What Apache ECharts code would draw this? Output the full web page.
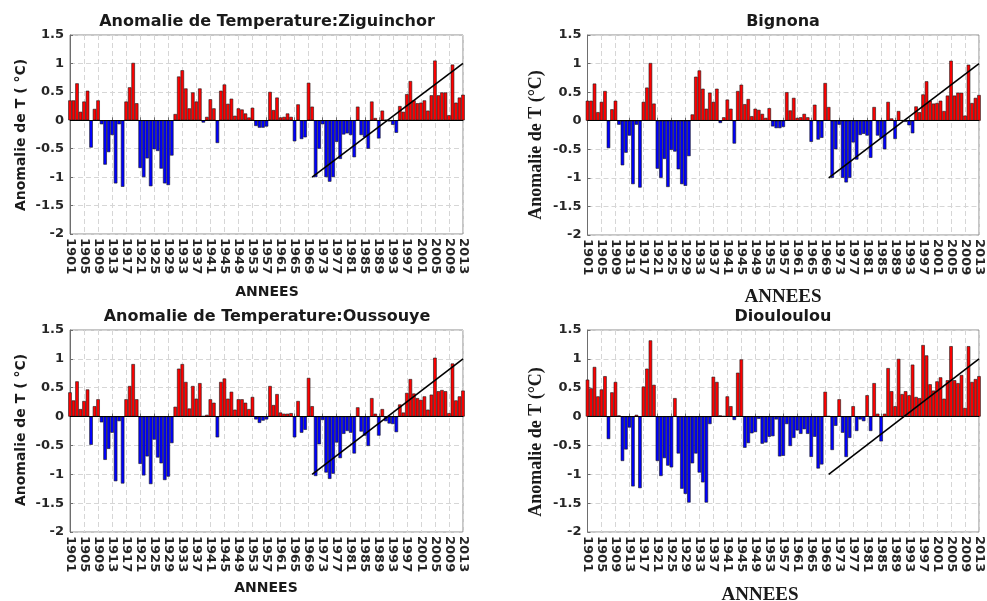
<!DOCTYPE html>
<html>
<head>
<meta charset="utf-8">
<script src="https://cdn.jsdelivr.net/npm/echarts@6/dist/echarts.min.js"></script>
<style>
  html, body { margin: 0; padding: 0; background: #fff; }
  #chart { width: 987px; height: 601px; }
</style>
</head>
<body>
<div id="chart"></div>
<script>
// Annual temperature anomalies (°C), 1901-2013
const FIRST_YEAR = 1901;
const LAST_YEAR = 2013;
const years = [];
for (let y = FIRST_YEAR; y <= LAST_YEAR; y++) years.push(String(y));

const ziguinchor = [
  0.35, 0.35, 0.65, 0.15, 0.33, 0.52, -0.48, 0.20, 0.35, -0.07,
  -0.78, -0.56, -0.26, -1.11, -0.07, -1.17, 0.33, 0.58, 1.01, 0.30,
  -0.84, -1.00, -0.67, -1.16, -0.51, -0.54, -0.85, -1.11, -1.14, -0.62,
  0.11, 0.77, 0.88, 0.56, 0.21, 0.49, 0.33, 0.56, -0.04, 0.06,
  0.37, 0.21, -0.40, 0.52, 0.63, 0.29, 0.38, 0.08, 0.21, 0.19,
  0.12, 0.05, 0.22, -0.10, -0.13, -0.13, -0.11, 0.50, 0.18, 0.40,
  0.05, 0.06, 0.12, 0.06, -0.37, 0.28, -0.33, -0.30, 0.66, 0.24,
  -1.00, -0.50, -0.07, -1.00, -1.08, -1.00, -0.38, -0.68, -0.25, -0.23,
  -0.26, -0.65, 0.24, -0.26, -0.30, -0.50, 0.33, 0.04, -0.32, 0.17,
  0.01, -0.02, -0.08, -0.22, 0.25, 0.15, 0.46, 0.69, 0.35, 0.30,
  0.31, 0.35, 0.17, 0.44, 1.05, 0.44, 0.49, 0.49, 0.09, 0.98,
  0.31, 0.40, 0.45
];

const bignona = [
  0.35, 0.35, 0.65, 0.15, 0.33, 0.52, -0.48, 0.20, 0.35, -0.07,
  -0.78, -0.56, -0.26, -1.11, -0.07, -1.17, 0.33, 0.58, 1.01, 0.30,
  -0.84, -1.00, -0.67, -1.16, -0.51, -0.54, -0.85, -1.11, -1.14, -0.62,
  0.11, 0.77, 0.88, 0.56, 0.21, 0.49, 0.33, 0.56, -0.04, 0.06,
  0.37, 0.21, -0.40, 0.52, 0.63, 0.29, 0.38, 0.08, 0.21, 0.19,
  0.12, 0.05, 0.22, -0.10, -0.13, -0.13, -0.11, 0.50, 0.18, 0.40,
  0.05, 0.06, 0.12, 0.06, -0.37, 0.28, -0.33, -0.30, 0.66, 0.24,
  -1.00, -0.50, -0.07, -1.00, -1.08, -1.00, -0.38, -0.68, -0.25, -0.23,
  -0.26, -0.65, 0.24, -0.26, -0.30, -0.50, 0.33, 0.04, -0.32, 0.17,
  0.01, -0.02, -0.08, -0.22, 0.25, 0.15, 0.46, 0.69, 0.35, 0.30,
  0.31, 0.35, 0.17, 0.44, 1.05, 0.44, 0.49, 0.49, 0.09, 0.98,
  0.31, 0.40, 0.45
];

const oussouye = [
  0.42, 0.28, 0.61, 0.13, 0.27, 0.47, -0.49, 0.18, 0.30, -0.10,
  -0.75, -0.56, -0.28, -1.12, -0.08, -1.16, 0.30, 0.53, 0.91, 0.30,
  -0.82, -1.02, -0.69, -1.17, -0.40, -0.71, -0.81, -1.10, -1.04, -0.46,
  0.17, 0.83, 0.91, 0.60, 0.14, 0.53, 0.31, 0.58, 0.01, 0.03,
  0.30, 0.24, -0.36, 0.60, 0.66, 0.31, 0.43, 0.12, 0.30, 0.30,
  0.24, 0.13, 0.34, -0.05, -0.11, -0.07, -0.05, 0.53, 0.20, 0.39,
  0.07, 0.05, 0.05, 0.06, -0.36, 0.27, -0.28, -0.23, 0.67, 0.18,
  -1.03, -0.48, -0.06, -0.97, -1.08, -0.99, -0.45, -0.72, -0.30, -0.25,
  -0.28, -0.64, 0.16, -0.26, -0.33, -0.51, 0.32, 0.05, -0.33, 0.13,
  -0.08, -0.12, -0.13, -0.27, 0.21, 0.07, 0.41, 0.65, 0.40, 0.32,
  0.29, 0.35, 0.12, 0.38, 1.02, 0.44, 0.46, 0.44, 0.06, 0.92,
  0.28, 0.35, 0.45
];

const diouloulou = [
  0.64, 0.49, 0.86, 0.35, 0.47, 0.70, -0.39, 0.42, 0.60, 0.02,
  -0.77, -0.57, -0.19, -1.21, 0.03, -1.24, 0.52, 0.83, 1.32, 0.55,
  -0.77, -1.03, -0.72, -0.85, -0.88, 0.32, -0.64, -1.25, -1.34, -1.49,
  -0.81, -0.64, -0.97, -1.14, -1.49, -0.13, 0.69, 0.60, 0.02, 0.01,
  0.35, 0.18, -0.06, 0.76, 0.99, -0.54, -0.46, -0.29, -0.27, -0.04,
  -0.47, -0.45, -0.35, -0.34, -0.05, -0.69, -0.68, -0.13, -0.51, -0.37,
  -0.24, -0.30, -0.22, -0.30, -0.70, -0.35, -0.90, -0.83, 0.43, 0.01,
  -0.58, -0.16, 0.30, -0.28, -0.70, -0.37, 0.18, -0.25, -0.05, -0.08,
  0.37, -0.25, 0.58, 0.05, -0.43, 0.05, 0.84, 0.44, 0.18, 1.00,
  0.39, 0.44, 0.37, 0.90, 0.34, 0.32, 1.24, 1.06, 0.56, 0.45,
  0.61, 0.68, 0.31, 0.63, 1.22, 0.63, 0.58, 0.72, 0.15, 1.22,
  0.60, 0.65, 0.70
];

// Linear trend drawn over the recent period
const trendYears = ['1970', '2013'];
const trendValues = [-1.0, 1.0];

const Y_MIN = -2, Y_MAX = 1.5, Y_STEP = 0.5;

const SANS = 'DejaVu Sans';
const SERIF = 'Liberation Serif';

const panels = [
  { values: ziguinchor, title: 'Anomalie de Temperature:Ziguinchor',
    grid: { left: 70, top: 35, width: 393, height: 199 },
    titlePos: [267, 22], yName: 'Anomalie de T ( °C)', yNamePos: [21, 135], yFont: SANS, yFontSize: 14,
    xNamePos: [267, 292], xFont: SANS, xFontSize: 14 },
  { values: bignona, title: 'Bignona',
    grid: { left: 587.5, top: 35, width: 391.5, height: 200 },
    titlePos: [783, 22], yName: 'Anomalie de T (°C)', yNamePos: [536, 145], yFont: SERIF, yFontSize: 18,
    xNamePos: [783, 297], xFont: SERIF, xFontSize: 19 },
  { values: oussouye, title: 'Anomalie de Temperature:Oussouye',
    grid: { left: 70, top: 330, width: 393, height: 202 },
    titlePos: [267, 317], yName: 'Anomalie de T ( °C)', yNamePos: [21, 430], yFont: SANS, yFontSize: 14,
    xNamePos: [266, 588], xFont: SANS, xFontSize: 14 },
  { values: diouloulou, title: 'Diouloulou',
    grid: { left: 587.5, top: 330, width: 391.5, height: 202 },
    titlePos: [783, 317], yName: 'Anomalie de T (°C)', yNamePos: [536, 442], yFont: SERIF, yFontSize: 18,
    xNamePos: [760, 595], xFont: SERIF, xFontSize: 19 }
];

const gridLine = { color: '#d6d6d6', type: [5, 3], width: 1 };
const axisColor = '#6e6e6e';

const option = {
  animation: false,
  backgroundColor: '#ffffff',
  grid: [], xAxis: [], yAxis: [], series: [], graphic: []
};

panels.forEach((p, i) => {
  option.grid.push(Object.assign({
    show: true, borderColor: '#8c8c8c', borderWidth: 1, backgroundColor: '#ffffff'
  }, p.grid));

  option.xAxis.push({
    type: 'category', gridIndex: i, data: years, boundaryGap: false,
    axisLine: { show: true, lineStyle: { color: axisColor, width: 1 } },
    axisTick: { show: true, inside: true, interval: 3, length: 3, lineStyle: { color: axisColor } },
    axisLabel: { interval: 3, rotate: -90, margin: 4, fontFamily: SANS, fontWeight: 'bold', fontSize: 13, color: '#262626' },
    splitLine: { show: true, interval: 3, lineStyle: gridLine }
  });

  option.yAxis.push({
    type: 'value', gridIndex: i, min: Y_MIN, max: Y_MAX, interval: Y_STEP,
    axisLine: { show: true, lineStyle: { color: axisColor, width: 1 } },
    axisTick: { show: true, inside: true, length: 3, lineStyle: { color: axisColor } },
    axisLabel: { margin: 6, fontFamily: SANS, fontWeight: 'bold', fontSize: 13, color: '#262626' },
    splitLine: { show: true, lineStyle: gridLine }
  });

  option.series.push({
    type: 'bar', xAxisIndex: i, yAxisIndex: i, barWidth: '100%', clip: true,
    data: p.values.map(v => ({ value: v, itemStyle: { color: v >= 0 ? '#ff0000' : '#0000ff' } })),
    itemStyle: { borderColor: '#1a1a1a', borderWidth: 0.6 },
    markLine: {
      silent: true, symbol: 'none', label: { show: false },
      lineStyle: { color: '#000000', type: 'solid', width: 1 },
      data: [{ yAxis: 0 }]
    }
  });

  option.series.push({
    type: 'line', xAxisIndex: i, yAxisIndex: i, symbol: 'none', z: 5,
    lineStyle: { color: '#000000', width: 1.6 },
    data: trendYears.map((yr, k) => [years.indexOf(yr), trendValues[k]])
  });

  option.graphic.push({
    type: 'text', x: p.titlePos[0], y: p.titlePos[1],
    style: { text: p.title, font: 'bold 16px "' + SANS + '"', fill: '#1a1a1a', textAlign: 'center', textVerticalAlign: 'middle' }
  });
  option.graphic.push({
    type: 'text', x: p.yNamePos[0], y: p.yNamePos[1], rotation: Math.PI / 2,
    style: { text: p.yName, font: 'bold ' + p.yFontSize + 'px "' + p.yFont + '"', fill: '#1a1a1a', textAlign: 'center', textVerticalAlign: 'middle' }
  });
  option.graphic.push({
    type: 'text', x: p.xNamePos[0], y: p.xNamePos[1],
    style: { text: 'ANNEES', font: 'bold ' + p.xFontSize + 'px "' + p.xFont + '"', fill: '#1a1a1a', textAlign: 'center', textVerticalAlign: 'middle' }
  });
});

const chart = echarts.init(document.getElementById('chart'), null, { renderer: 'canvas' });
chart.setOption(option);
</script>
</body>
</html>
